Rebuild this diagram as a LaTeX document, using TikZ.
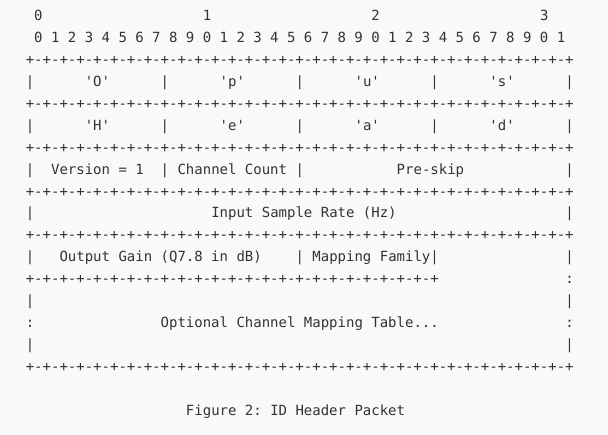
\documentclass[tikz,border=0pt]{standalone}
\usepackage{fontspec}
\setmonofont{DejaVu Sans Mono}
\definecolor{bgc}{HTML}{F9F9F9}
\definecolor{txc}{HTML}{333333}
\newcommand\bordseg{+-+-+-+-+-+-+-+-}
\tikzset{
  asc/.style={anchor=base west, inner sep=0pt, outer sep=0pt, text=txc,
    font=\ttfamily\fontsize{14}{16}\selectfont\frenchspacing}
}
% column c (relative to border start), line n
\newcommand\asc[4]{\node[asc] (#1) at ({25.8+#2*8.43},{-(20.6+21.93*#3)}) {#4};}
\begin{document}
\begin{tikzpicture}[x=1pt,y=1pt]
\fill[bgc] (0,0) rectangle (608,-435);
\useasboundingbox (0,0) rectangle (608,-435);
% bit numbers
\asc{t0}{1}{0}{0}
\asc{t1}{21}{0}{1}
\asc{t2}{41}{0}{2}
\asc{t3}{61}{0}{3}
\asc{bits}{1}{1}{0 1 2 3 4 5 6 7 8 9 0 1 2 3 4 5 6 7 8 9 0 1 2 3 4 5 6 7 8 9 0 1}
% borders
\asc{b2}{0}{2}{\bordseg\bordseg\bordseg\bordseg+}
\asc{b4}{0}{4}{\bordseg\bordseg\bordseg\bordseg+}
\asc{b6}{0}{6}{\bordseg\bordseg\bordseg\bordseg+}
\asc{b8}{0}{8}{\bordseg\bordseg\bordseg\bordseg+}
\asc{b10}{0}{10}{\bordseg\bordseg\bordseg\bordseg+}
\asc{b12}{0}{12}{\bordseg\bordseg\bordseg+}
\asc{b16}{0}{16}{\bordseg\bordseg\bordseg\bordseg+}
% row 3: magic O p u s
\asc{r3a}{0}{3}{|}\asc{r3b}{16}{3}{|}\asc{r3c}{32}{3}{|}\asc{r3d}{48}{3}{|}\asc{r3e}{64}{3}{|}
\asc{fO}{7}{3}{'O'}\asc{fp}{23}{3}{'p'}\asc{fu}{39}{3}{'u'}\asc{fs}{55}{3}{'s'}
% row 5: H e a d
\asc{r5a}{0}{5}{|}\asc{r5b}{16}{5}{|}\asc{r5c}{32}{5}{|}\asc{r5d}{48}{5}{|}\asc{r5e}{64}{5}{|}
\asc{fH}{7}{5}{'H'}\asc{fe}{23}{5}{'e'}\asc{fa}{39}{5}{'a'}\asc{fd}{55}{5}{'d'}
% row 7
\asc{r7a}{0}{7}{|}\asc{r7b}{16}{7}{|}\asc{r7c}{32}{7}{|}\asc{r7e}{64}{7}{|}
\asc{fver}{3}{7}{Version = 1}
\asc{fcc}{18}{7}{Channel Count}
\asc{fps}{44}{7}{Pre-skip}
% row 9
\asc{r9a}{0}{9}{|}\asc{r9e}{64}{9}{|}
\asc{fisr}{22}{9}{Input Sample Rate (Hz)}
% row 11
\asc{r11a}{0}{11}{|}\asc{r11c}{32}{11}{|}\asc{r11d}{48}{11}{|}\asc{r11e}{64}{11}{|}
\asc{fog}{4}{11}{Output Gain (Q7.8 in dB)}
\asc{fmf}{34}{11}{Mapping Family}
% row 12 right
\asc{r12e}{64}{12}{:}
% rows 13-15
\asc{r13a}{0}{13}{|}\asc{r13e}{64}{13}{|}
\asc{r14a}{0}{14}{:}\asc{r14e}{64}{14}{:}
\asc{fcmt}{16}{14}{Optional Channel Mapping Table...}
\asc{r15a}{0}{15}{|}\asc{r15e}{64}{15}{|}
% caption
\asc{cap}{19}{18}{Figure 2: ID Header Packet}
\end{tikzpicture}
\end{document}
